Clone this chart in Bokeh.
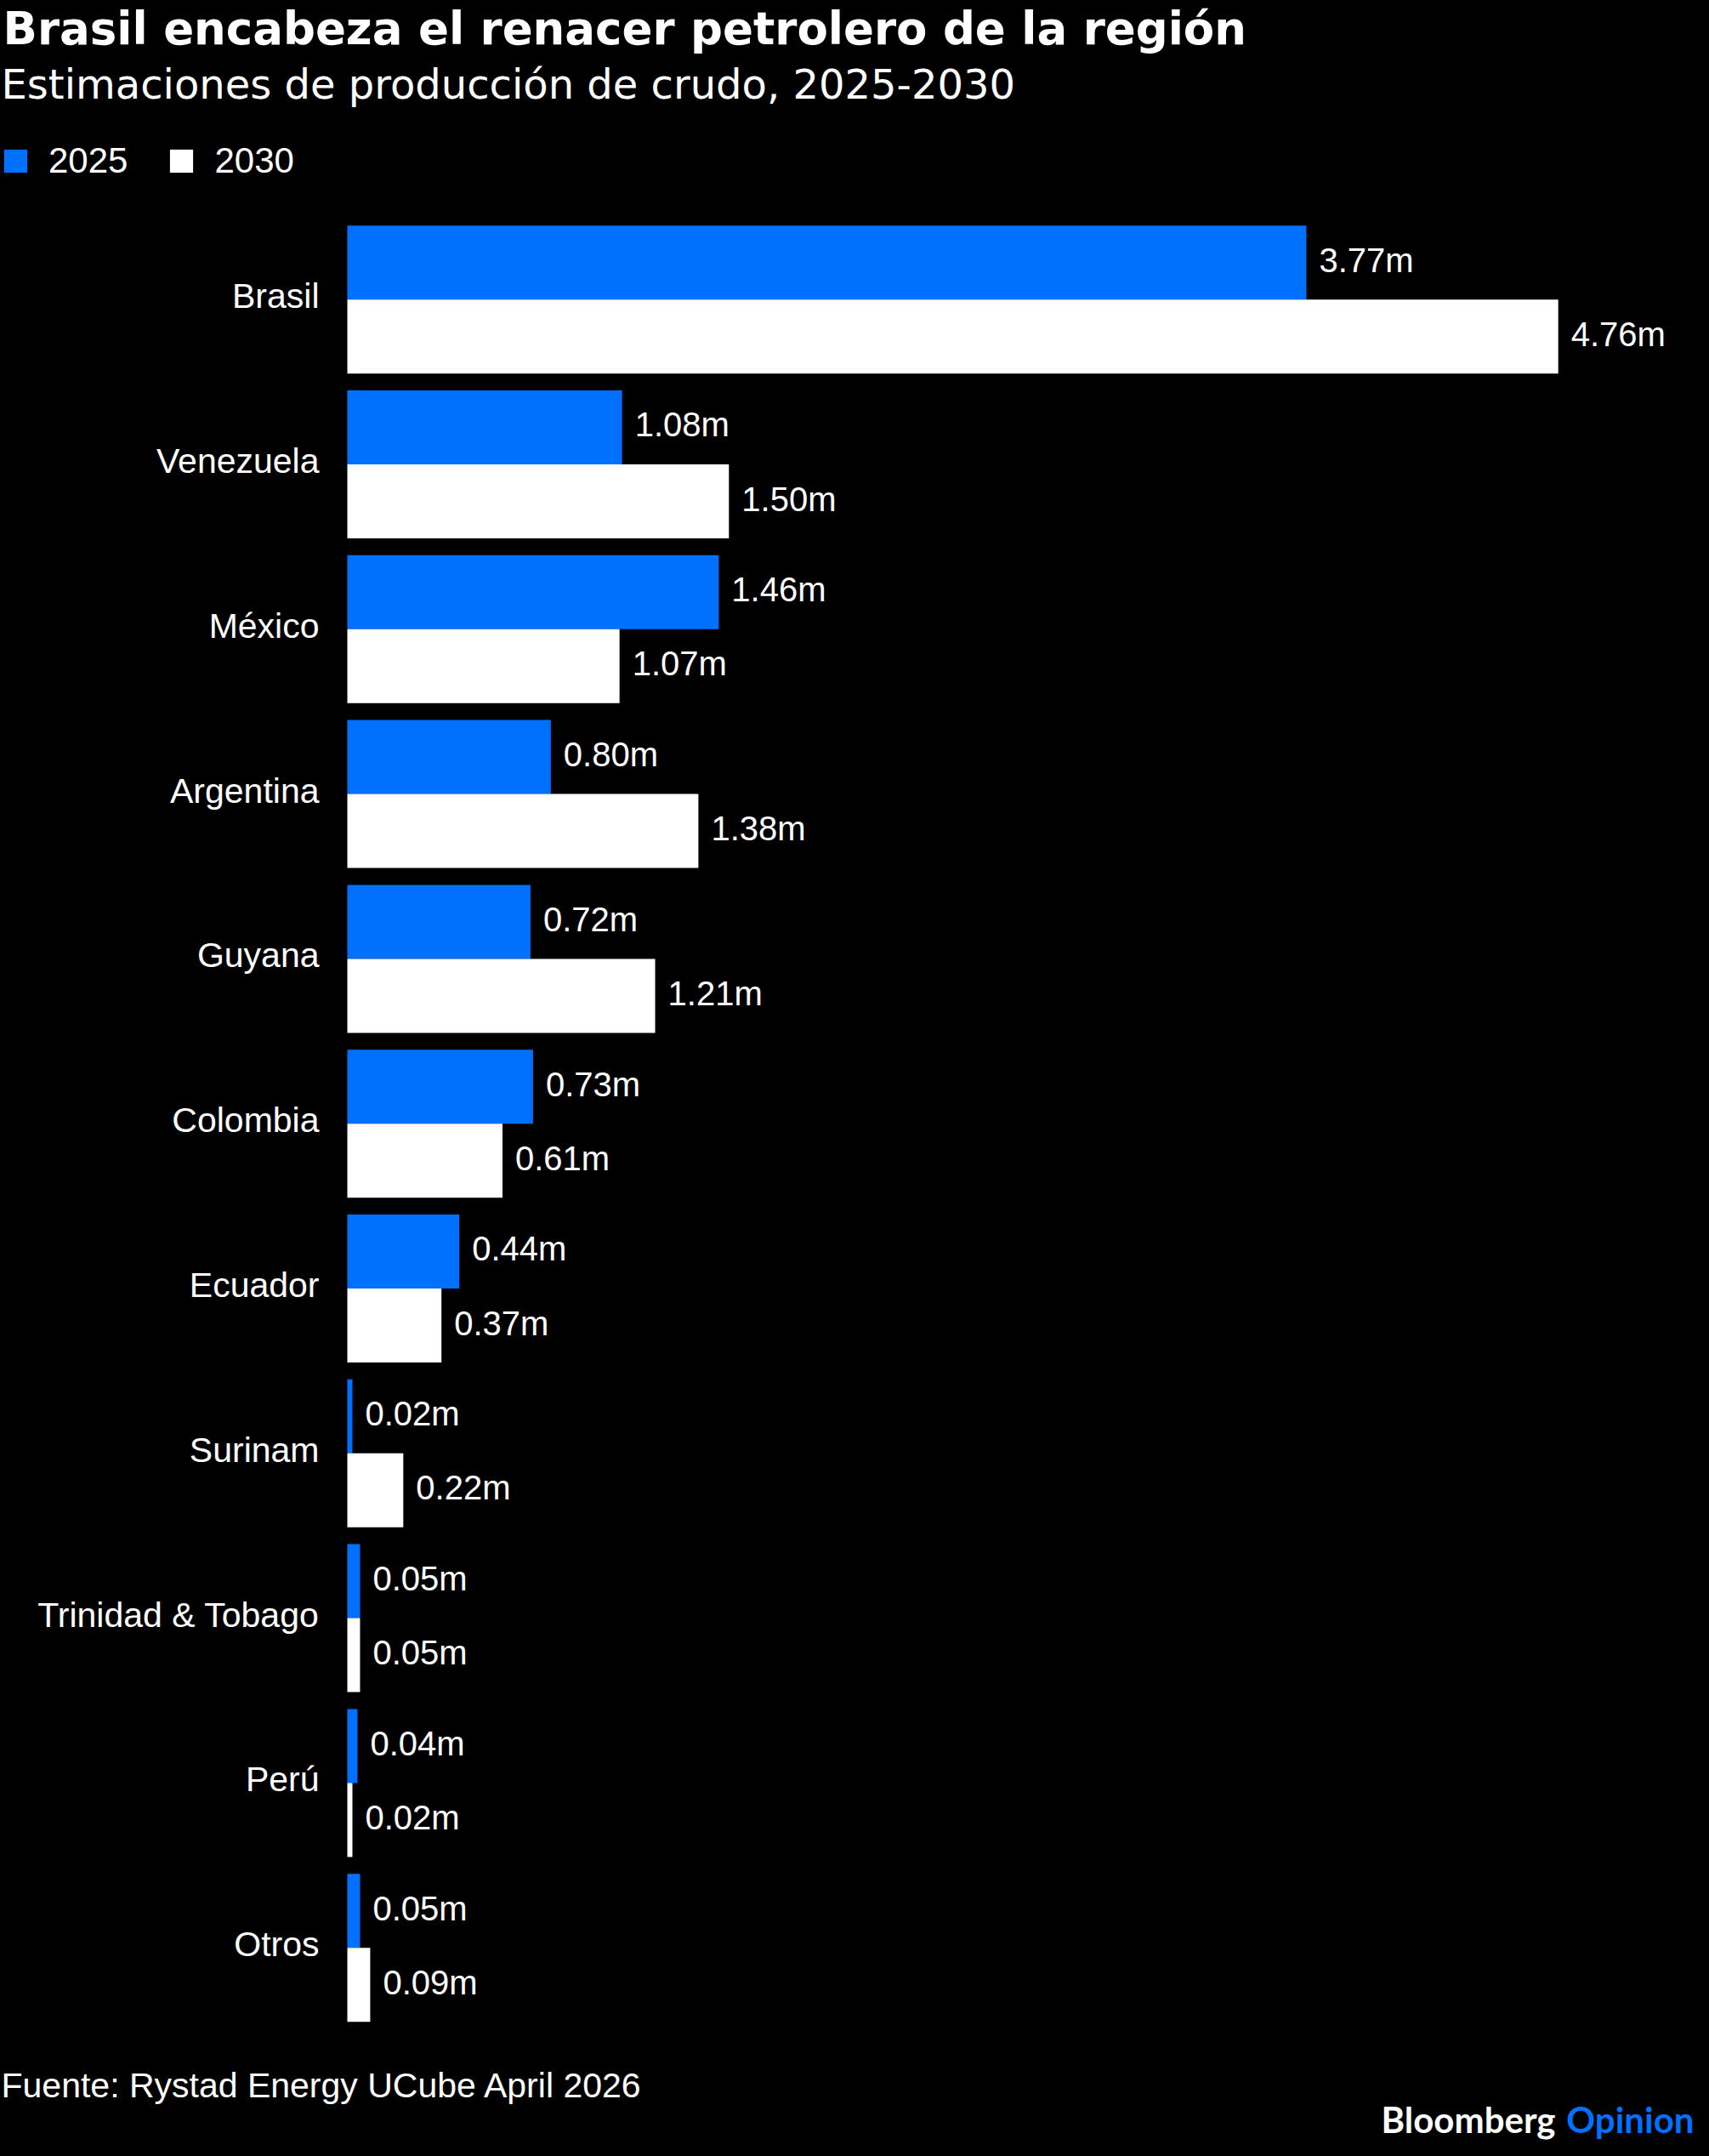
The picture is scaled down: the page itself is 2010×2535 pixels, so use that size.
from bokeh.plotting import figure
from bokeh.models import ColumnDataSource, Label, Legend, LegendItem, Range1d
from bokeh.core.properties import value
from bokeh.transform import dodge
from bokeh.embed import file_html
from bokeh.resources import INLINE

# ---- data ----
countries = ["Brasil", "Venezuela", "México", "Argentina", "Guyana", "Colombia",
             "Ecuador", "Surinam", "Trinidad & Tobago", "Perú", "Otros"]
prod_2025 = [3.77, 1.08, 1.46, 0.80, 0.72, 0.73, 0.44, 0.02, 0.05, 0.04, 0.05]
prod_2030 = [4.76, 1.50, 1.07, 1.38, 1.21, 0.61, 0.37, 0.22, 0.05, 0.02, 0.09]
series_names = ["2025", "2030"]

title_text = "Brasil encabeza el renacer petrolero de la región"
subtitle_text = "Estimaciones de producción de crudo, 2025-2030"
source_text = "Fuente: Rystad Energy UCube April 2026"

# ---- layout ----
W, H = 1994, 2519
X0_PX = 408.0        # canvas px where value 0 sits
PX_PER_X = 299.2     # px per million barrels
Y0_PX = 351.7        # canvas px of first group centre
PITCH = 193.8        # px between groups
BAR_H = 0.449
OFF = BAR_H / 2
LBL_SHIFT = 20       # Label baseline correction

BLUE = "#0070ff"
WHITE = "#ffffff"
BG = "#000000"
BODY_FONT = "Liberation Sans"


def sx(px):
    return (px - X0_PX) / PX_PER_X


def sy(py):
    return (py - Y0_PX) / PITCH


idx = list(range(len(countries)))
src = ColumnDataSource(dict(
    idx=idx,
    country=countries,
    v25=prod_2025,
    v30=prod_2030,
    l25=[f"{v:.2f}m" for v in prod_2025],
    l30=[f"{v:.2f}m" for v in prod_2030],
))

p = figure(width=W, height=H, output_backend="svg", toolbar_location=None,
           x_axis_type=None, y_axis_type=None,
           x_range=Range1d(sx(0), sx(W)), y_range=Range1d(sy(H), sy(0)),
           min_border=0, min_border_left=0, min_border_right=0,
           min_border_top=0, min_border_bottom=0,
           background_fill_color=BG, border_fill_color=BG,
           outline_line_color=None)
p.grid.visible = False

r25 = p.hbar(y=dodge("idx", -OFF, range=p.y_range), right="v25", left=0,
             height=BAR_H, source=src, fill_color=BLUE, line_color=None)
r30 = p.hbar(y=dodge("idx", OFF, range=p.y_range), right="v30", left=0,
             height=BAR_H, source=src, fill_color=WHITE, line_color=None)

# value labels
p.text(x="v25", y=dodge("idx", -OFF, range=p.y_range), text="l25", source=src,
       x_offset=15, y_offset=-3, text_align="left", text_baseline="middle",
       text_font=value(BODY_FONT), text_font_size="40px", text_color=WHITE)
p.text(x="v30", y=dodge("idx", OFF, range=p.y_range), text="l30", source=src,
       x_offset=15, y_offset=-3, text_align="left", text_baseline="middle",
       text_font=value(BODY_FONT), text_font_size="40px", text_color=WHITE)

# category labels
p.text(x=sx(375), y="idx", text="country", source=src, y_offset=-4,
       text_align="right", text_baseline="middle",
       text_font=value(BODY_FONT), text_font_size="41px", text_color=WHITE)

# title / subtitle
p.add_layout(Label(x=sx(3), y=sy(53 - LBL_SHIFT), text=title_text,
                   text_font="DejaVu Sans", text_font_style="bold",
                   text_font_size="53px", text_color=WHITE,
                   text_baseline="alphabetic"))
p.add_layout(Label(x=sx(1), y=sy(118 - LBL_SHIFT), text=subtitle_text,
                   text_font="DejaVu Sans", text_font_size="48px",
                   text_color=WHITE, text_baseline="alphabetic"))

# legend
legend = Legend(items=[LegendItem(label=series_names[0], renderers=[r25]),
                       LegendItem(label=series_names[1], renderers=[r30])],
                orientation="horizontal", location=(1, H - 213),
                padding=0, margin=0, spacing=46,
                glyph_width=34, glyph_height=34, label_standoff=22,
                label_text_font=BODY_FONT, label_text_font_size="42px",
                label_text_color=WHITE,
                background_fill_alpha=0, border_line_alpha=0)
p.add_layout(legend)

# footer
p.add_layout(Label(x=sx(1), y=sy(2471 - LBL_SHIFT), text=source_text,
                   text_font=BODY_FONT, text_font_size="41px",
                   text_color=WHITE, text_baseline="alphabetic"))
p.add_layout(Label(x=sx(1829), y=sy(2511 - LBL_SHIFT), text="Bloomberg",
                   text_font="Lato", text_font_style="bold",
                   text_font_size="42px", text_color=WHITE,
                   text_align="right", text_baseline="alphabetic"))
p.add_layout(Label(x=sx(1992), y=sy(2511 - LBL_SHIFT), text="Opinion",
                   text_font="Lato", text_font_style="bold",
                   text_font_size="42px", text_color=BLUE,
                   text_align="right", text_baseline="alphabetic"))

html = file_html(p, INLINE)
html = html.replace("</head>", "<style>html,body{background:#000000;}</style></head>", 1)
open("out.html", "w").write(html)
